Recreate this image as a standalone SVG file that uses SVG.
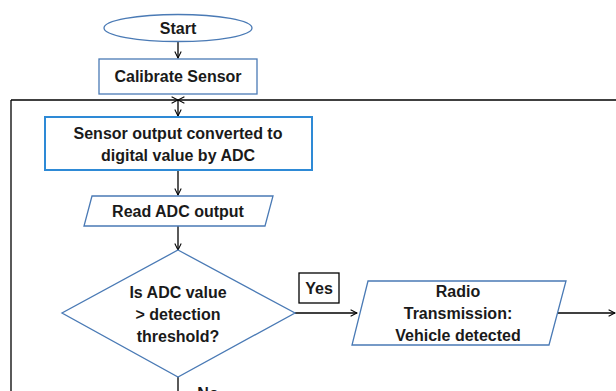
<svg xmlns="http://www.w3.org/2000/svg" width="616" height="391" viewBox="0 0 616 391">
<defs>
<marker id="ah" viewBox="0 0 10 10" refX="9" refY="5" markerWidth="8" markerHeight="8" orient="auto" markerUnits="userSpaceOnUse">
<path d="M1,1 L9,5 L1,9" fill="none" stroke="#000" stroke-width="1.3"/>
</marker>
<style>
.n{fill:#fff;stroke:#4a7ab5;stroke-width:1.3}
.nb{fill:#fff;stroke:#2e8ad6;stroke-width:2}
.c{fill:none;stroke:#000;stroke-width:1.3}
.a{marker-end:url(#ah)}
text{font-family:"Liberation Sans",Arial,sans-serif;font-weight:bold;font-size:16px;fill:#1a1a1a;text-anchor:middle}
</style>
</defs>
<g id="connectors">
<path class="c a" d="M178,42 V58"/>
<path class="c" d="M11,391 V100"/>
<path class="c a" d="M11,100 H178"/>
<path class="c a" d="M616,100 H178"/>
<path class="c a" d="M178,100 V116"/>
<path class="c a" d="M178,170 V195"/>
<path class="c a" d="M178,226 V250"/>
<path class="c a" d="M295,313 H357"/>
<path class="c a" d="M558,313 H615"/>
<path class="c" d="M178,377 V391"/>
</g>
<g id="start">
<ellipse class="n" cx="178" cy="28" rx="74" ry="13.5"/>
<text x="178" y="34">Start</text>
</g>
<g id="calibrate">
<rect class="n" x="99" y="59" width="158" height="35"/>
<text x="178" y="82">Calibrate Sensor</text>
</g>
<g id="convert">
<rect class="nb" x="45" y="117" width="267" height="53"/>
<text x="178" y="139">Sensor output converted to</text>
<text x="178" y="161">digital value by ADC</text>
</g>
<g id="read">
<polygon class="n" points="92,196 273,196 265,226 84,226"/>
<text x="178" y="217">Read ADC output</text>
</g>
<g id="decision">
<polygon class="n" points="178,250 295,313 178,377 62,313"/>
<text x="178" y="298">Is ADC value</text>
<text x="178" y="320">&gt; detection</text>
<text x="178" y="342">threshold?</text>
</g>
<g id="yes">
<rect x="299" y="273" width="40" height="30" fill="#fff" stroke="#000" stroke-width="1.3"/>
<text x="319" y="294">Yes</text>
</g>
<g id="radio">
<polygon class="n" points="368,281 566,281 549,345 352,345"/>
<text x="458" y="297">Radio</text>
<text x="458" y="319">Transmission:</text>
<text x="458" y="341">Vehicle detected</text>
</g>
<g id="no">
<text x="208" y="399">No</text>
</g>
</svg>
